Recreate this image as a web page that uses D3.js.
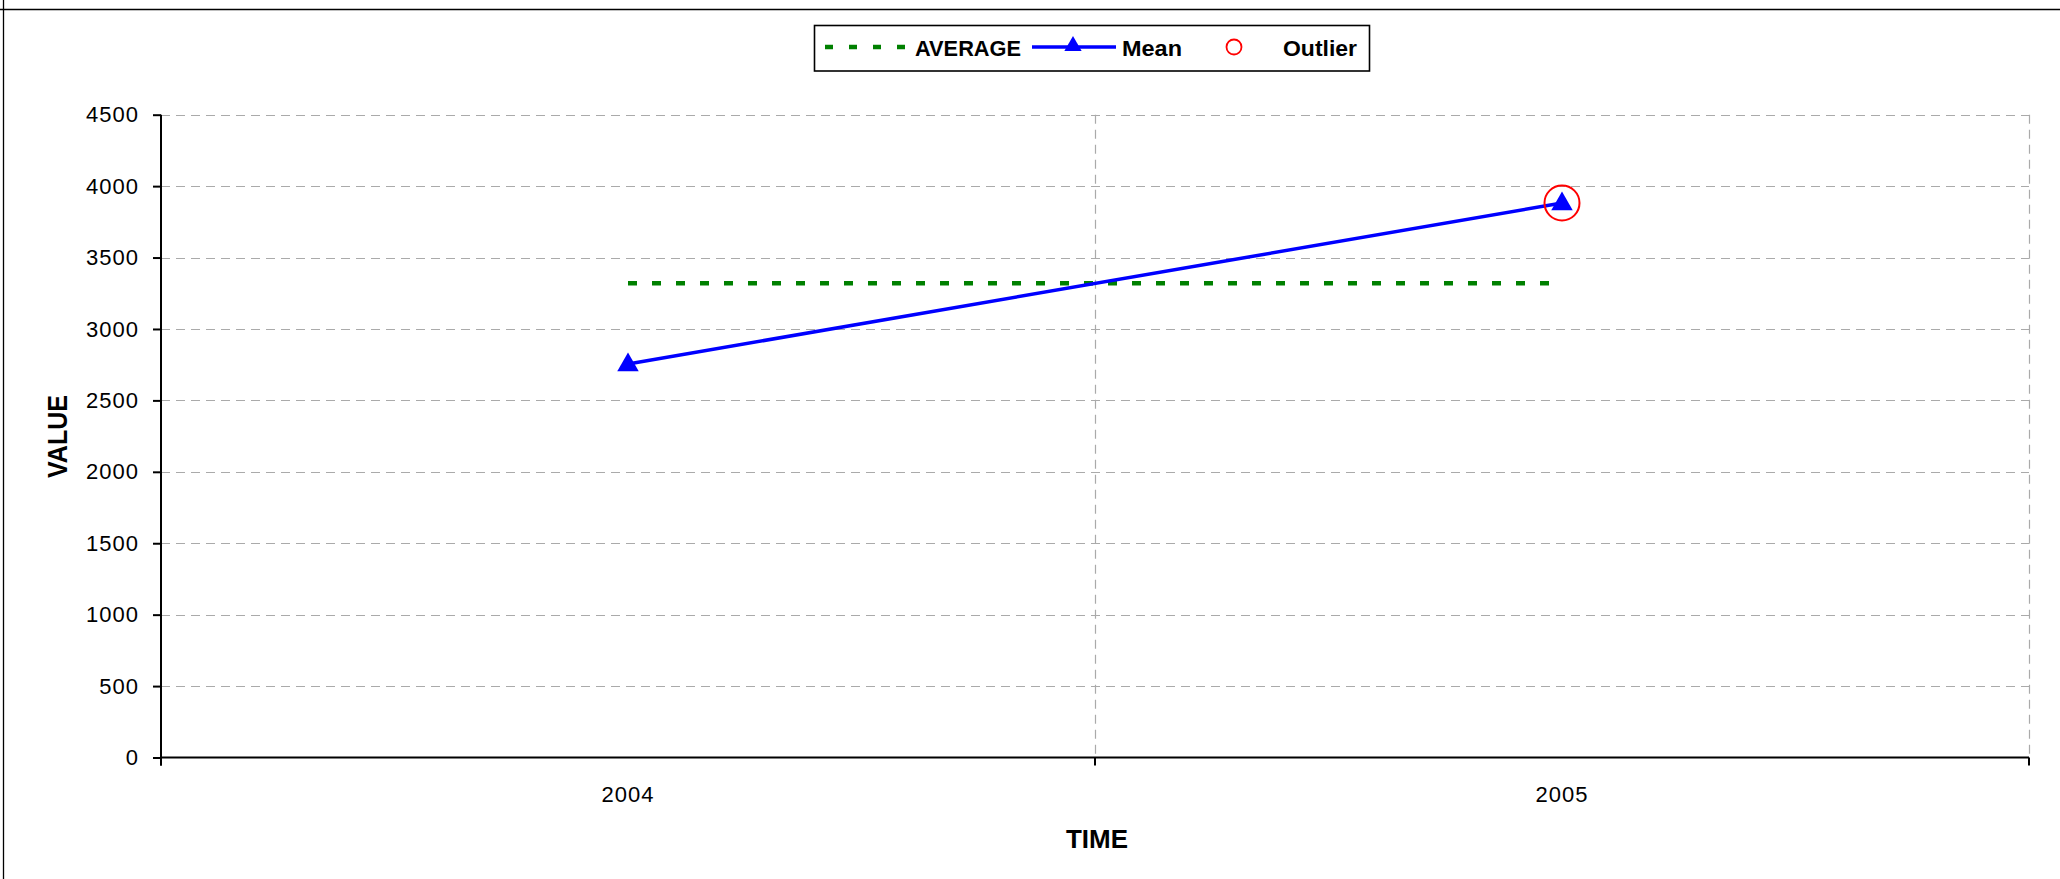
<!DOCTYPE html>
<html>
<head>
<meta charset="utf-8">
<script src="https://cdn.jsdelivr.net/npm/d3@7"></script>
<style>
html,body{margin:0;padding:0;background:#fff;}
svg{display:block;font-family:Arial,"Liberation Sans",sans-serif;}
</style>
</head>
<body>
<svg id="chart" width="2060" height="879"></svg>
<script>
const categories = ["2004", "2005"];
const meanValues = [2755, 3882];
const averageValues = [3320, 3320];
const outlierValues = [null, 3882];
const yTickValues = [0, 500, 1000, 1500, 2000, 2500, 3000, 3500, 4000, 4500];
const legendLabels = ["AVERAGE", "Mean", "Outlier"];

const svg = d3.select("#chart");
const W = 2060, H = 879;
const plot = {left: 161, right: 2029, top: 114.7, bottom: 757.5};
const FONT = "Arial, 'Liberation Sans', sans-serif";

// outer border fragments
svg.append("line").attr("x1", 0).attr("x2", W).attr("y1", 9.5).attr("y2", 9.5)
  .attr("stroke", "#000").attr("stroke-width", 1.3);
svg.append("line").attr("x1", 3.5).attr("x2", 3.5).attr("y1", 0).attr("y2", H)
  .attr("stroke", "#000").attr("stroke-width", 1.3);

const x = d3.scaleBand().domain(categories).range([plot.left, plot.right]).padding(0);
const y = d3.scaleLinear().domain([0, 4500]).range([plot.bottom, plot.top]);
const cx = d => x(d) + x.bandwidth() / 2;

// horizontal gridlines
svg.append("g").selectAll("line").data(yTickValues.filter(v => v > 0)).join("line")
  .attr("x1", plot.left).attr("x2", plot.right)
  .attr("y1", d => Math.round(y(d)) + 0.5).attr("y2", d => Math.round(y(d)) + 0.5)
  .attr("stroke", "#aaaaaa").attr("stroke-width", 1.2).attr("stroke-dasharray", "9,6");

// vertical gridlines at category boundaries
const boundaries = categories.map(c => x(c) + x.bandwidth());
svg.append("g").selectAll("line").data(boundaries).join("line")
  .attr("x1", d => Math.round(d) + 0.5).attr("x2", d => Math.round(d) + 0.5)
  .attr("y1", plot.top).attr("y2", plot.bottom)
  .attr("stroke", "#aaaaaa").attr("stroke-width", 1.2).attr("stroke-dasharray", "9,6");

// Y axis
const yAxis = d3.axisLeft(y).tickValues(yTickValues).tickSize(8).tickPadding(14).tickFormat(d3.format("d"));
const gy = svg.append("g").attr("transform", `translate(${plot.left},0)`).call(yAxis);
gy.select(".domain").attr("stroke", "#000").attr("stroke-width", 2).attr("d", `M0,${plot.top}V${plot.bottom + 8}`);
gy.selectAll(".tick line").attr("stroke", "#000").attr("stroke-width", 2);
gy.selectAll(".tick text").attr("font-size", 22).attr("fill", "#000").attr("font-family", FONT)
  .attr("letter-spacing", 1);

// X axis
const xAxis = d3.axisBottom(x).tickSize(0).tickPadding(29);
const gx = svg.append("g").attr("transform", `translate(0,${plot.bottom})`).call(xAxis);
gx.select(".domain").attr("stroke", "#000").attr("stroke-width", 2).attr("d", `M${plot.left},0H${plot.right}`);
gx.selectAll(".tick text").attr("font-size", 22).attr("fill", "#000").attr("font-family", FONT)
  .attr("letter-spacing", 1);
// x tick marks at boundaries
const xTickPos = [plot.left].concat(boundaries);
svg.append("g").selectAll("line").data(xTickPos).join("line")
  .attr("x1", d => d).attr("x2", d => d)
  .attr("y1", plot.bottom).attr("y2", plot.bottom + 8)
  .attr("stroke", "#000").attr("stroke-width", 2);

// axis titles
svg.append("text").attr("x", 1097).attr("y", 848).attr("text-anchor", "middle")
  .attr("font-size", 26).attr("font-weight", "bold")
  .attr("textLength", 62).attr("lengthAdjust", "spacingAndGlyphs").text("TIME");
svg.append("text").attr("transform", "translate(66.5,436.5) rotate(-90)").attr("text-anchor", "middle")
  .attr("font-size", 27).attr("font-weight", "bold")
  .attr("textLength", 83).attr("lengthAdjust", "spacingAndGlyphs").text("VALUE");

// AVERAGE line
const avgLine = d3.line().x((d, i) => cx(categories[i])).y(d => y(d));
svg.append("path").datum(averageValues).attr("d", avgLine)
  .attr("fill", "none").attr("stroke", "#008000").attr("stroke-width", 4.5).attr("stroke-dasharray", "9,15");

// Mean line
const meanLine = d3.line().x((d, i) => cx(categories[i])).y(d => y(d));
svg.append("path").datum(meanValues).attr("d", meanLine)
  .attr("fill", "none").attr("stroke", "#0000ff").attr("stroke-width", 3.5);

const tri = d3.symbol().type(d3.symbolTriangle).size(200);
svg.append("g").selectAll("path").data(meanValues).join("path")
  .attr("transform", (d, i) => `translate(${cx(categories[i])},${y(d) + 1})`)
  .attr("d", tri).attr("fill", "#0000ff");

// Outlier
svg.append("g").selectAll("circle").data(outlierValues.map((v, i) => ({v, c: categories[i]})).filter(d => d.v != null))
  .join("circle").attr("cx", d => cx(d.c)).attr("cy", d => y(d.v)).attr("r", 17.5)
  .attr("fill", "none").attr("stroke", "#ff0000").attr("stroke-width", 2);

// Legend
const lg = svg.append("g");
lg.append("rect").attr("x", 814.5).attr("y", 25.5).attr("width", 555).attr("height", 45.5)
  .attr("fill", "#fff").attr("stroke", "#000").attr("stroke-width", 1.6);
const ly = 47;
const base = 55.5;
lg.append("line").attr("x1", 825).attr("x2", 907).attr("y1", ly).attr("y2", ly)
  .attr("stroke", "#008000").attr("stroke-width", 4.5).attr("stroke-dasharray", "8,16");
lg.append("text").attr("x", 915).attr("y", base).attr("font-size", 22).attr("font-weight", "bold")
  .attr("textLength", 106).attr("lengthAdjust", "spacingAndGlyphs").text(legendLabels[0]);
lg.append("line").attr("x1", 1032).attr("x2", 1116).attr("y1", ly).attr("y2", ly)
  .attr("stroke", "#0000ff").attr("stroke-width", 3.5);
lg.append("path").attr("transform", `translate(1073,${ly - 1})`).attr("d", d3.symbol().type(d3.symbolTriangle).size(130)).attr("fill", "#0000ff");
lg.append("text").attr("x", 1122).attr("y", base).attr("font-size", 22).attr("font-weight", "bold")
  .attr("textLength", 60).attr("lengthAdjust", "spacingAndGlyphs").text(legendLabels[1]);
lg.append("circle").attr("cx", 1234).attr("cy", ly).attr("r", 7.5)
  .attr("fill", "none").attr("stroke", "#ff0000").attr("stroke-width", 1.8);
lg.append("text").attr("x", 1283).attr("y", base).attr("font-size", 22).attr("font-weight", "bold")
  .attr("textLength", 74).attr("lengthAdjust", "spacingAndGlyphs").text(legendLabels[2]);
</script>
</body>
</html>
